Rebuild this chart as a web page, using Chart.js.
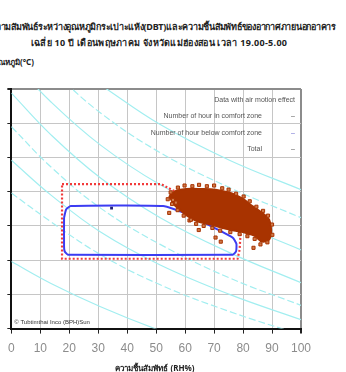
<!DOCTYPE html>
<html lang="th">
<head>
<meta charset="utf-8">
<title>DBT / RH</title>
<script src="https://cdn.jsdelivr.net/npm/chart.js@4.4.0/dist/chart.umd.min.js"></script>
<style>
  html, body { margin: 0; padding: 0; background: #fff; }
  body { width: 346px; height: 372px; overflow: hidden; position: relative; font-family: "Noto Sans", "Liberation Sans", sans-serif; }
  .ttl { position: absolute; white-space: nowrap; font-weight: bold; font-size: 9px; color: #222; }
  #t1 { top: 20px; left: -10px; letter-spacing: -0.25px; }
  #t2 { top: 36px; left: 0; width: 318px; text-align: center; letter-spacing: 0.3px; }
  #ylab { top: 56px; left: -7px; font-size: 8px; }
  #xlab { top: 362px; left: 100px; width: 110px; text-align: center; font-size: 8px; }
  #chart { position: absolute; left: 0; top: 0; }
</style>
</head>
<body>
<div class="ttl" id="t1">ความสัมพันธ์ระหว่างอุณหภูมิกระเปาะแห้ง(DBT)และความชื้นสัมพัทธ์ของอากาศภายนอกอาคาร</div>
<div class="ttl" id="t2">เฉลี่ย 10 ปี เดือนพฤษภาคม จังหวัดแม่ฮ่องสอน เวลา 19.00-5.00</div>
<div class="ttl" id="ylab">อุณหภูมิ(°C)</div>
<canvas id="chart" width="346" height="372"></canvas>
<div class="ttl" id="xlab">ความชื้นสัมพัทธ์ (RH%)</div>
<script>
// x = relative humidity (%), y = dry bulb temperature (°C)
const rhMin = 0, rhMax = 100, rhStep = 10;
const tMin = 10, tMax = 45, tStep = 5;

// comfort zone (still air)
const comfortZone = [
  [18.2, 26.2], [18.9, 27.4], [20.5, 27.9], [52.4, 27.9], [59.6, 26.9],
  [76.4, 23.3], [77.7, 22.4], [77.6, 21.3], [76.5, 20.8], [19.5, 20.8],
  [18.4, 21.3], [18.2, 22.0], [18.2, 26.2]
];
const comfortMarks = [[34.6, 27.6]];

// comfort zone extended by air motion
const comfortZoneAir = [
  [17.5, 31.1], [51.7, 31.1], [58.5, 29.6], [79.5, 26.5], [78.8, 21.5],
  [78.1, 20.2], [17.5, 20.2], [17.5, 31.1]
];

// dense block of hourly readings 19.00-5.00
const hourCloud = [
  [54.5, 29.4], [56.8, 30.1], [60.3, 30.4], [65.4, 30.4], [70.5, 30.3],
  [75.7, 29.8], [79.8, 29.0], [83.2, 27.9], [86.6, 26.9], [89.0, 25.9],
  [89.7, 24.4], [89.0, 23.0], [86.6, 22.7], [83.9, 23.6], [80.8, 24.0],
  [77.4, 24.3], [72.9, 24.7], [68.8, 25.2], [64.7, 25.6], [61.3, 26.3],
  [58.6, 27.2], [56.2, 28.1], [54.5, 29.4]
];
const hourEdge = [
  [55.0, 29.9], [57.5, 30.6], [59.8, 30.9], [62.5, 30.8], [64.8, 31.0],
  [67.5, 30.8], [70.0, 30.9], [72.8, 30.5], [75.0, 30.3], [77.6, 29.7],
  [80.2, 29.3], [82.3, 28.6], [84.6, 27.8], [86.9, 27.2], [88.6, 26.5],
  [90.0, 25.2], [90.1, 23.7], [88.4, 22.6], [86.0, 22.3], [84.0, 23.1],
  [81.5, 23.5], [78.8, 23.8], [75.6, 24.1], [72.1, 24.3], [69.4, 24.7],
  [66.4, 25.0], [63.8, 25.3], [61.5, 25.8], [59.5, 26.5], [57.4, 27.3],
  [55.5, 28.2], [54.0, 28.9]
];
const hourStray = [
  [55.8, 28.8], [54.5, 26.9], [56.8, 28.4], [62.0, 25.9], [64.7, 24.4],
  [70.5, 23.3], [72.3, 22.7], [83.6, 21.8]
];

// background humidity curves
const humidityCurves = [
  [[30.8, 45.6], [51.4, 39.8], [75.3, 34.6], [100, 30.3]],
  [[13.7, 47.8], [30.8, 41.5], [51.4, 35.7], [75.3, 30.6], [100, 26.2]],
  [[0, 49.2], [13.7, 43.1], [30.8, 36.8], [51.4, 31.0], [75.3, 25.9], [100, 21.5]],
  [[0, 44.4], [13.7, 38.3], [30.8, 32.0], [51.4, 26.2], [75.3, 21.1], [100, 16.7]],
  [[0, 39.5], [13.7, 33.6], [30.8, 27.6], [51.4, 22.3], [75.3, 17.4], [100, 13.4]],
  [[0, 34.6], [13.7, 29.5], [30.8, 24.1], [51.4, 19.3], [75.3, 15.0], [100, 11.3]],
  [[0, 29.8], [13.7, 25.6], [30.8, 20.8], [51.4, 16.4], [75.3, 12.5], [100, 9.1]],
  [[0, 19.8], [13.7, 16.6], [30.8, 13.2], [51.4, 9.7], [75.3, 6.2]]
];
const curveDashed = [false, true, false, false, true, false, true, false];

const tableRows = ['Data with air motion effect', 'Number of hour in comfort zone', 'Number of hour below comfort zone', 'Total'];
const tableValues = ['', '–', '–', '–'];
const creditText = '© Tubtimthai Inco (BPH)Sun';

const toXY = arr => arr.map(p => ({ x: p[0], y: p[1] }));

const datasets = [];
humidityCurves.forEach((c, i) => {
  datasets.push({
    data: toXY(c),
    borderColor: '#a2eef0',
    borderWidth: 1.2,
    borderDash: curveDashed[i] ? [7, 3] : [],
    pointRadius: 0,
    tension: 0.4,
    fill: false,
    order: 20
  });
});
datasets.push({
  data: toXY(comfortZoneAir),
  borderColor: '#f23a3a',
  borderWidth: 2.2,
  borderDash: [2, 2],
  pointRadius: 0,
  tension: 0,
  order: 10
});
datasets.push({
  data: toXY(comfortZone),
  borderColor: '#3c3cf2',
  borderWidth: 2,
  pointRadius: 0,
  tension: 0.15,
  order: 9
});
datasets.push({
  data: toXY(comfortMarks),
  showLine: false,
  pointStyle: 'rect',
  pointRadius: 2,
  backgroundColor: '#202070',
  borderWidth: 0,
  order: 8
});
datasets.push({
  data: toXY(hourCloud),
  borderColor: '#a83300',
  backgroundColor: '#a83300',
  borderWidth: 2,
  pointRadius: 0,
  tension: 0.3,
  fill: 'shape',
  order: 3
});
datasets.push({
  data: toXY(hourEdge.concat(hourStray)),
  showLine: false,
  pointStyle: 'rect',
  pointRadius: 2.2,
  backgroundColor: '#cf7a4a',
  borderColor: '#a83300',
  borderWidth: 1,
  order: 2
});

// legend table text and credit line inside the plot
const tableText = {
  id: 'tableText',
  afterDatasetsDraw(chart) {
    const { ctx, chartArea: a } = chart;
    ctx.save();
    ctx.font = '7px "Liberation Sans", sans-serif';
    ctx.fillStyle = '#555';
    ctx.textBaseline = 'middle';
    ctx.textAlign = 'right';
    tableRows.forEach((row, i) => {
      const y = a.top + 11 + i * 16.5;
      ctx.fillText(row, i === 0 ? a.right - 6 : a.right - 39, y);
      if (tableValues[i]) {
        ctx.fillStyle = i === 2 ? '#6a6ad0' : '#555';
        ctx.fillText(tableValues[i], a.right - 6, y);
        ctx.fillStyle = '#555';
      }
    });
    ctx.textAlign = 'left';
    ctx.font = '6px "Liberation Sans", sans-serif';
    ctx.fillStyle = '#333';
    ctx.fillText(creditText, a.left + 3, a.bottom - 6);
    ctx.restore();
  }
};

new Chart(document.getElementById('chart'), {
  type: 'line',
  data: { datasets },
  plugins: [tableText],
  options: {
    responsive: false,
    animation: false,
    layout: { padding: { left: 5, right: 45, top: 89, bottom: 8 } },
    plugins: { legend: { display: false }, tooltip: { enabled: false } },
    scales: {
      x: {
        type: 'linear',
        min: rhMin,
        max: rhMax,
        ticks: { stepSize: rhStep, color: '#8c8c8c', padding: 8, font: { family: 'Liberation Sans', size: 12 } },
        grid: {
          color: ctx => ctx.tick && ctx.tick.value === rhMax ? '#8c8c8c' : '#c6c6c6',
          lineWidth: ctx => ctx.tick && ctx.tick.value === rhMax ? 2 : 1,
          tickLength: 5,
          tickColor: '#222'
        },
        border: { color: '#111', width: 2 }
      },
      y: {
        type: 'linear',
        min: tMin,
        max: tMax,
        ticks: { stepSize: tStep, display: false },
        grid: {
          color: ctx => ctx.tick && ctx.tick.value === tMax ? '#8c8c8c' : '#c6c6c6',
          lineWidth: ctx => ctx.tick && ctx.tick.value === tMax ? 2 : 1,
          tickLength: 4,
          tickColor: '#222'
        },
        border: { color: '#111', width: 2 }
      }
    }
  }
});
</script>
</body>
</html>
